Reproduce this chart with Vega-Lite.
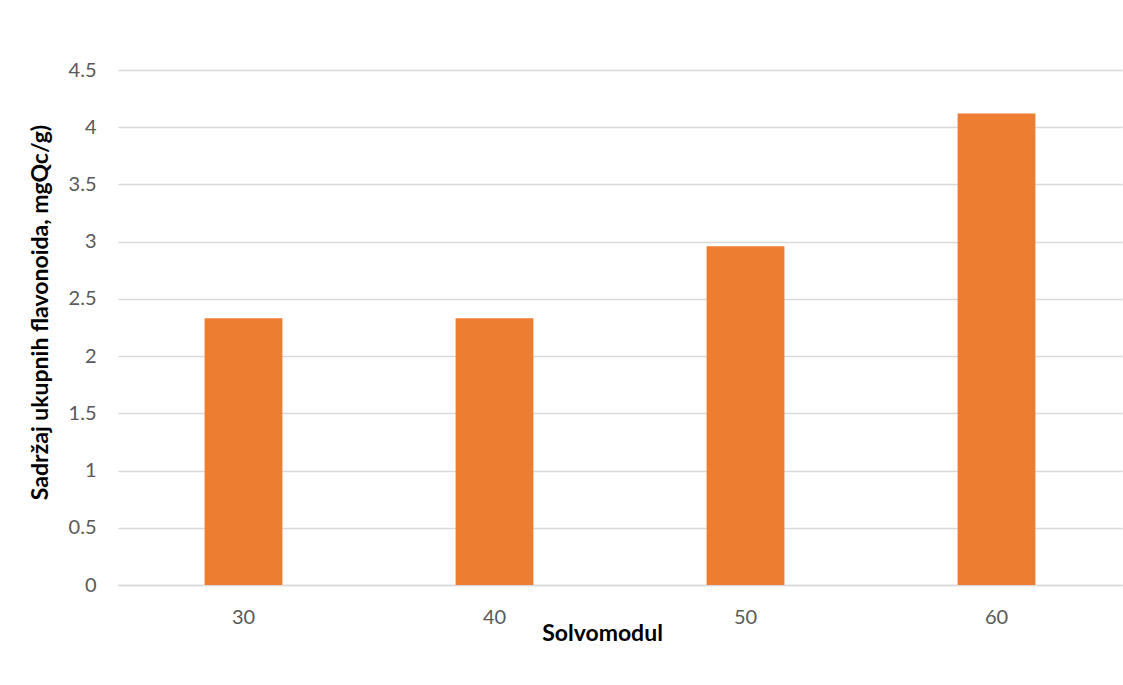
{
  "$schema": "https://vega.github.io/schema/vega-lite/v6.json",
  "autosize": "none",
  "padding": {"left": 118, "top": 70, "right": 1, "bottom": 100},
  "width": 1004,
  "height": 515,
  "background": "white",
  "config": {
    "view": {"stroke": null},
    "font": "Lato"
  },
  "data": {
    "values": [
      {"solvomodul": "30", "sadrzaj": 2.33},
      {"solvomodul": "40", "sadrzaj": 2.33},
      {"solvomodul": "50", "sadrzaj": 2.96},
      {"solvomodul": "60", "sadrzaj": 4.12}
    ]
  },
  "mark": {"type": "bar", "color": "#ED7D31"},
  "encoding": {
    "x": {
      "field": "solvomodul",
      "type": "ordinal",
      "sort": null,
      "scale": {"paddingInner": 0.69, "paddingOuter": 0.345},
      "axis": {
        "title": "Solvomodul",
        "titleFont": "Lato",
        "titleFontSize": 23,
        "titleFontWeight": "bold",
        "titleColor": "#000000",
        "titleX": 484,
        "titleY": 48,
        "titleBaseline": "middle",
        "titleAlign": "center",
        "labelAngle": 0,
        "labelFontSize": 20,
        "labelColor": "#595959",
        "labelPadding": 22,
        "ticks": false,
        "domain": true,
        "domainColor": "#d9d9d9",
        "domainWidth": 1.5
      }
    },
    "y": {
      "field": "sadrzaj",
      "type": "quantitative",
      "scale": {"domain": [0, 4.5], "nice": false},
      "axis": {
        "title": "Sadržaj ukupnih flavonoida, mgQc/g)",
        "titleFont": "Lato",
        "titleFontSize": 23,
        "titleFontWeight": "bold",
        "titleColor": "#000000",
        "titleX": -78,
        "titleY": 242,
        "titleAngle": -90,
        "titleBaseline": "middle",
        "titleAlign": "center",
        "values": [0, 0.5, 1, 1.5, 2, 2.5, 3, 3.5, 4, 4.5],
        "format": "~g",
        "labelFontSize": 20,
        "labelColor": "#595959",
        "labelPadding": 22,
        "ticks": false,
        "domain": false,
        "grid": true,
        "gridColor": "#d9d9d9",
        "gridWidth": 1.3
      }
    }
  }
}
